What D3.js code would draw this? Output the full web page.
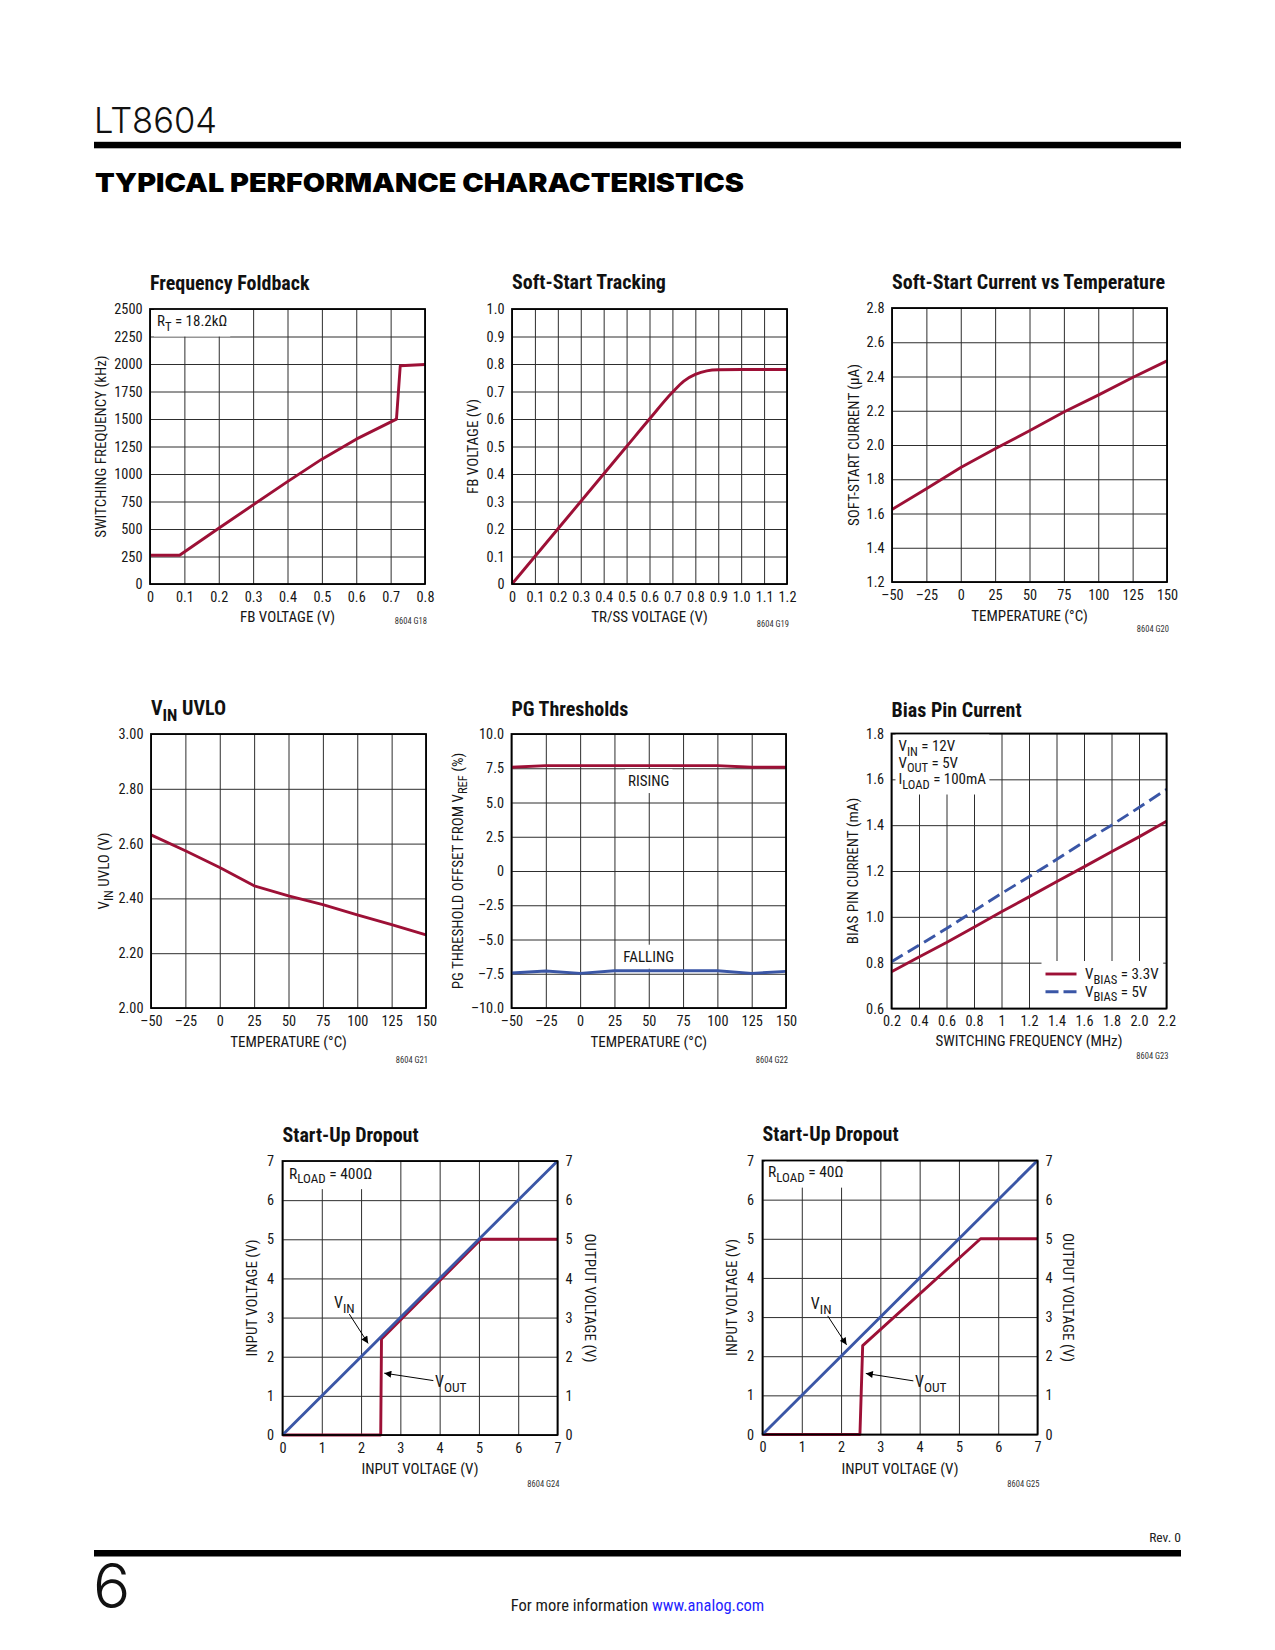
<!DOCTYPE html>
<html><head><meta charset="utf-8">
<script src="https://cdn.jsdelivr.net/npm/d3@7"></script>
<style>
body{margin:0;background:#fff;}
svg{display:block;}
</style></head><body>
<svg id="page" width="1275" height="1650"></svg>
<script>
// ---------------- DATA ----------------
// Frequency Foldback
const ffFb   = [0, 0.086, 0.2, 0.3, 0.4, 0.5, 0.6, 0.717, 0.728, 0.8];
const ffFreq = [261, 261, 507, 719, 931, 1135, 1317, 1499, 1984, 1995];
const ffXTicks = [0,0.1,0.2,0.3,0.4,0.5,0.6,0.7,0.8];
const ffXLabels = ["0","0.1","0.2","0.3","0.4","0.5","0.6","0.7","0.8"];
const ffYTicks = [0,250,500,750,1000,1250,1500,1750,2000,2250,2500];
const ffYLabels = ["0","250","500","750","1000","1250","1500","1750","2000","2250","2500"];

// Soft-Start Tracking
const ssTr = [0,0.1,0.2,0.3,0.4,0.5,0.6,0.7,0.75,0.8,0.85,0.9,1.0,1.1,1.2];
const ssFb = [0,0.1,0.2,0.3,0.4,0.5,0.6,0.697,0.738,0.762,0.775,0.779,0.78,0.78,0.78];
const ssXTicks = [0,0.1,0.2,0.3,0.4,0.5,0.6,0.7,0.8,0.9,1.0,1.1,1.2];
const ssXLabels = ["0","0.1","0.2","0.3","0.4","0.5","0.6","0.7","0.8","0.9","1.0","1.1","1.2"];
const ssYTicks = [0,0.1,0.2,0.3,0.4,0.5,0.6,0.7,0.8,0.9,1.0];
const ssYLabels = ["0","0.1","0.2","0.3","0.4","0.5","0.6","0.7","0.8","0.9","1.0"];

// Temperature axis (shared)
const tempTicks  = [-50,-25,0,25,50,75,100,125,150];
const tempLabels = ["\u201350","\u201325","0","25","50","75","100","125","150"];

// Soft-Start Current vs Temperature
const scTemp = [-50,-25,0,25,50,75,100,125,150];
const scCur  = [1.624,1.744,1.869,1.978,2.083,2.193,2.291,2.394,2.491];
const scYTicks = [1.2,1.4,1.6,1.8,2.0,2.2,2.4,2.6,2.8];
const scYLabels = ["1.2","1.4","1.6","1.8","2.0","2.2","2.4","2.6","2.8"];

// VIN UVLO
const uvTemp = [-50,-25,0,25,50,75,100,125,150];
const uvV    = [2.632,2.574,2.513,2.446,2.409,2.377,2.340,2.304,2.267];
const uvYTicks = [2.0,2.2,2.4,2.6,2.8,3.0];
const uvYLabels = ["2.00","2.20","2.40","2.60","2.80","3.00"];

// PG Thresholds
const pgTemp = [-50,-25,0,25,50,75,100,125,150];
const pgRise = [7.57,7.69,7.69,7.69,7.69,7.69,7.69,7.57,7.57];
const pgFall = [-7.45,-7.30,-7.47,-7.28,-7.28,-7.28,-7.28,-7.47,-7.33];
const pgYTicks = [-10,-7.5,-5,-2.5,0,2.5,5,7.5,10];
const pgYLabels = ["\u201310.0","\u20137.5","\u20135.0","\u20132.5","0","2.5","5.0","7.5","10.0"];

// Bias Pin Current
const bpFreq = [0.2,0.4,0.6,0.8,1.0,1.2,1.4,1.6,1.8,2.0,2.2];
const bp33   = [0.760,0.825,0.888,0.955,1.022,1.087,1.153,1.218,1.284,1.349,1.417];
const bp5    = [0.804,0.876,0.949,1.026,1.102,1.175,1.250,1.327,1.400,1.477,1.556];
const bpXLabels = ["0.2","0.4","0.6","0.8","1","1.2","1.4","1.6","1.8","2.0","2.2"];
const bpYTicks = [0.6,0.8,1.0,1.2,1.4,1.6,1.8];
const bpYLabels = ["0.6","0.8","1.0","1.2","1.4","1.6","1.8"];

// Start-Up Dropout
const suTicks  = [0,1,2,3,4,5,6,7];
const suLabels = ["0","1","2","3","4","5","6","7"];
const suVinX = [0,7];
const suVinY = [0,7];
const su400OutX = [0,2.50,2.52,5.05,7];
const su400OutY = [0,0,2.45,5.0,5.0];
const su40OutX  = [0,2.48,2.55,5.55,7];
const su40OutY  = [0,0,2.27,5.0,5.0];

// ---------------- STYLE ----------------
const NARROW = '"Liberation Sans Narrow","Roboto Condensed","Arial Narrow","DejaVu Sans Condensed",sans-serif';
const RED = "#9d1036";
const BLUE = "#3a56a6";
const GRID = "#2e2e2e";
const TICK = 14.3, LAB = 15, ANN = 15, TITLE = 20;

const svg = d3.select("#page");

function rich(g, x, y, parts, size, anchor, extra){
  const t = g.append("text").attr("x", x).attr("y", y)
    .attr("font-family", NARROW).attr("font-stretch","condensed")
    .attr("font-size", size).attr("fill", "#161616")
    .attr("text-anchor", anchor || "start");
  if (extra) t.attr("transform", extra);
  let shifted = false;
  const sh = size * 0.3;
  parts.forEach(p => {
    const isSub = Array.isArray(p);
    const txt = isSub ? p[0] : p;
    const ts = t.append("tspan").text(txt);
    if (isSub) { ts.attr("font-size", size*0.84).attr("dy", shifted ? 0 : sh); shifted = true; }
    else { if (shifted) { ts.attr("dy", -sh); shifted = false; } }
  });
  return t;
}

function whiteBehind(g, nodes, pad){
  let x0=1e9,y0=1e9,x1=-1e9,y1=-1e9;
  nodes.forEach(n => { const b = n.node().getBBox(); x0=Math.min(x0,b.x); y0=Math.min(y0,b.y); x1=Math.max(x1,b.x+b.width); y1=Math.max(y1,b.y+b.height); });
  g.insert("rect", ":first-child").attr("x", x0-pad).attr("y", y0-pad).attr("width", x1-x0+2*pad).attr("height", y1-y0+2*pad).attr("fill","#fff");
}

function chart(cfg){
  const {l,t,w,h} = cfg.box;
  const G = svg.append("g");
  const x = d3.scaleLinear().domain(cfg.xDomain).range([l, l+w]);
  const y = d3.scaleLinear().domain(cfg.yDomain).range([t+h, t]);

  const styleAxis = s => {
    s.select(".domain").remove();
    s.selectAll(".tick line").attr("stroke", GRID).attr("stroke-width", 1);
    s.selectAll(".tick text").attr("font-family", NARROW).attr("font-stretch","condensed").attr("font-size", TICK).attr("fill","#161616");
  };
  G.append("g").attr("transform", `translate(0,${t+h})`)
    .call(d3.axisBottom(x).tickValues(cfg.xTicks).tickFormat((d,i)=>cfg.xLabels[i]).tickSize(-h).tickPadding(7.5))
    .call(styleAxis);
  G.append("g").attr("transform", `translate(${l},0)`)
    .call(d3.axisLeft(y).tickValues(cfg.yTicks).tickFormat((d,i)=>cfg.yLabels[i]).tickSize(-w).tickPadding(cfg.yPad || 7.5))
    .call(styleAxis);
  if (cfg.rightAxis){
    G.append("g").attr("transform", `translate(${l+w},0)`)
      .call(d3.axisRight(y).tickValues(cfg.yTicks).tickFormat((d,i)=>cfg.yLabels[i]).tickSize(0).tickPadding(8))
      .call(styleAxis);
  }

  const A = G.append("g");
  if (cfg.annot) cfg.annot(A, x, y);

  const D = G.append("g");
  cfg.series.forEach(s => {
    const pts = s.x.map((v,i)=>[v, s.y[i]]);
    const line = d3.line().x(d=>x(d[0])).y(d=>y(d[1])).curve(s.curve || d3.curveLinear);
    D.append("path").attr("d", line(pts)).attr("fill","none")
      .attr("stroke", s.color).attr("stroke-width", 2.9)
      .attr("stroke-linejoin","round")
      .attr("stroke-dasharray", s.dash || null);
  });

  G.append("rect").attr("x", l).attr("y", t).attr("width", w).attr("height", h)
    .attr("fill","none").attr("stroke","#000").attr("stroke-width", 1.8);

  if (cfg.top) cfg.top(G, x, y);

  const title = rich(G, l, cfg.titleY, cfg.title, TITLE, "start");
  title.attr("font-weight","bold").attr("fill","#111");
  rich(G, l + w/2, cfg.xLabelY, cfg.xLabel, LAB, "middle");
  const cy = t + h/2;
  rich(G, 0, 5.3, cfg.yLabel, LAB, "middle", `translate(${cfg.yLabelX},${cy}) rotate(-90)`);
  if (cfg.yLabelR){
    rich(G, 0, 5.3, cfg.yLabelR, LAB, "middle", `translate(${cfg.yLabelRX},${cy}) rotate(90)`);
  }
  G.append("text").attr("x", l + w + (cfg.codeDX||2)).attr("y", cfg.codeY).attr("text-anchor","end")
    .attr("font-family", NARROW).attr("font-stretch","condensed").attr("font-size", 8.5).attr("fill","#333").text(cfg.code);
}

// ---------------- PAGE HEADER ----------------
svg.append("text").attr("x", 94).attr("y", 133).attr("font-family","Inter, 'DejaVu Sans', sans-serif")
  .attr("font-weight", 300).attr("font-size", 36).attr("fill","#111")
  .attr("textLength", 123).attr("lengthAdjust","spacingAndGlyphs").text("LT8604");
svg.append("rect").attr("x", 94).attr("y", 141.8).attr("width", 1087).attr("height", 6.5).attr("fill","#000");
svg.append("text").attr("x", 95).attr("y", 191.5).attr("font-family","Inter, 'DejaVu Sans', sans-serif")
  .attr("font-weight", 900).attr("font-size", 25.5).attr("fill","#000")
  .attr("textLength", 649).attr("lengthAdjust","spacingAndGlyphs")
  .text("TYPICAL PERFORMANCE CHARACTERISTICS");

// ---------------- CHARTS ----------------
chart({
  box:{l:150,t:309,w:275,h:275},
  xDomain:[0,0.8], yDomain:[0,2500],
  xTicks:ffXTicks, xLabels:ffXLabels, yTicks:ffYTicks, yLabels:ffYLabels,
  title:["Frequency Foldback"], titleY:289.5,
  xLabel:["FB VOLTAGE (V)"], xLabelY:621.5,
  yLabel:["SWITCHING FREQUENCY (kHz)"], yLabelX:100.7,
  code:"8604 G18", codeY:624,
  series:[{x:ffFb, y:ffFreq, color:RED}],
  annot:(A)=>{ const t = rich(A, 157, 326, ["R",["T"]," = 18.2k\u03A9"], ANN); whiteBehind(A,[t],3); }
});

chart({
  box:{l:512,t:309,w:275,h:275},
  xDomain:[0,1.2], yDomain:[0,1.0],
  xTicks:ssXTicks, xLabels:ssXLabels, yTicks:ssYTicks, yLabels:ssYLabels,
  title:["Soft-Start Tracking"], titleY:289,
  xLabel:["TR/SS VOLTAGE (V)"], xLabelY:621.5,
  yLabel:["FB VOLTAGE (V)"], yLabelX:472.3,
  code:"8604 G19", codeY:626.5,
  series:[{x:ssTr, y:ssFb, color:RED, curve:d3.curveMonotoneX}]
});

chart({
  box:{l:892,t:308,w:275,h:274},
  xDomain:[-50,150], yDomain:[1.2,2.8],
  xTicks:tempTicks, xLabels:tempLabels, yTicks:scYTicks, yLabels:scYLabels,
  title:["Soft-Start Current vs Temperature"], titleY:288.5,
  xLabel:["TEMPERATURE (\u00B0C)"], xLabelY:621,
  yLabel:["SOFT-START CURRENT (\u03BCA)"], yLabelX:853.3,
  code:"8604 G20", codeY:631.5,
  series:[{x:scTemp, y:scCur, color:RED}]
});

chart({
  box:{l:151,t:734,w:275,h:274},
  xDomain:[-50,150], yDomain:[2.0,3.0],
  xTicks:tempTicks, xLabels:tempLabels, yTicks:uvYTicks, yLabels:uvYLabels,
  title:["V",["IN"]," UVLO"], titleY:714.5,
  xLabel:["TEMPERATURE (\u00B0C)"], xLabelY:1046.5,
  yLabel:["V",["IN"]," UVLO (V)"], yLabelX:103.3,
  code:"8604 G21", codeY:1063,
  series:[{x:uvTemp, y:uvV, color:RED}]
});

chart({
  box:{l:511.5,t:734,w:274.5,h:274},
  xDomain:[-50,150], yDomain:[-10,10],
  xTicks:tempTicks, xLabels:tempLabels, yTicks:pgYTicks, yLabels:pgYLabels,
  title:["PG Thresholds"], titleY:715.5,
  xLabel:["TEMPERATURE (\u00B0C)"], xLabelY:1046.5,
  yLabel:["PG THRESHOLD OFFSET FROM V",["REF"]," (%)"], yLabelX:457.3,
  code:"8604 G22", codeY:1063,
  series:[{x:pgTemp, y:pgRise, color:RED},{x:pgTemp, y:pgFall, color:BLUE}],
  annot:(A,x,y)=>{
    const r = rich(A, x(50), y(6.2), ["RISING"], ANN, "middle"); whiteBehind(A,[r],3);
    const f = rich(A, x(50), y(-6.62), ["FALLING"], ANN, "middle"); whiteBehind(A,[f],3);
  }
});

chart({
  box:{l:891.5,t:733.5,w:275,h:275},
  xDomain:[0.2,2.2], yDomain:[0.6,1.8],
  xTicks:bpFreq, xLabels:bpXLabels, yTicks:bpYTicks, yLabels:bpYLabels,
  title:["Bias Pin Current"], titleY:716.5,
  xLabel:["SWITCHING FREQUENCY (MHz)"], xLabelY:1046,
  yLabel:["BIAS PIN CURRENT (mA)"], yLabelX:852.7,
  code:"8604 G23", codeY:1058.5,
  series:[{x:bpFreq, y:bp33, color:RED},{x:bpFreq, y:bp5, color:BLUE, dash:"13,6"}],
  annot:(A,x,y)=>{
    const L = 891.5, B = 1008.5, R = 1166.5;
    const a1 = rich(A, L+7, 751, ["V",["IN"]," = 12V"], ANN);
    const a2 = rich(A, L+7, 767.5, ["V",["OUT"]," = 5V"], ANN);
    const a3 = rich(A, L+7, 784, ["I",["LOAD"]," = 100mA"], ANN);
    whiteBehind(A,[a1,a2,a3],3);
    const lg = A.append("g");
    const s1 = lg.append("line").attr("x1",R-121).attr("x2",R-90).attr("y1",B-34.5).attr("y2",B-34.5).attr("stroke",RED).attr("stroke-width",2.9);
    const s2 = lg.append("line").attr("x1",R-121).attr("x2",R-90).attr("y1",B-16.8).attr("y2",B-16.8).attr("stroke",BLUE).attr("stroke-width",2.9).attr("stroke-dasharray","13,5");
    const t1 = rich(lg, R-81.5, B-29.5, ["V",["BIAS"]," = 3.3V"], ANN);
    const t2 = rich(lg, R-81.5, B-12, ["V",["BIAS"]," = 5V"], ANN);
    whiteBehind(lg,[s1,s2,t1,t2],4);
  }
});

function dropoutArrows(G, x, y, a){
  const defs = svg.select("defs").empty() ? svg.append("defs") : svg.select("defs");
  if (defs.select("#ah").empty()){
    defs.append("marker").attr("id","ah").attr("viewBox","0 0 10 10").attr("refX",10).attr("refY",5)
      .attr("markerWidth",9).attr("markerHeight",7).attr("markerUnits","userSpaceOnUse").attr("orient","auto")
      .append("path").attr("d","M0,0 L10,5 L0,10 Z").attr("fill","#000");
  }
  rich(G, x(a.vinLab[0]), y(a.vinLab[1]), ["V",["IN"]], 16);
  rich(G, x(a.voutLab[0]), y(a.voutLab[1]), ["V",["OUT"]], 16);
  [a.vinArr, a.voutArr].forEach(p => {
    G.append("line").attr("x1",x(p[0])).attr("y1",y(p[1])).attr("x2",x(p[2])).attr("y2",y(p[3]))
      .attr("stroke","#000").attr("stroke-width",1).attr("marker-end","url(#ah)");
  });
}

chart({
  box:{l:282.5,t:1161,w:275,h:274},
  xDomain:[0,7], yDomain:[0,7],
  xTicks:suTicks, xLabels:suLabels, yTicks:suTicks, yLabels:suLabels, yPad:8.5,
  rightAxis:true,
  title:["Start-Up Dropout"], titleY:1141.5,
  xLabel:["INPUT VOLTAGE (V)"], xLabelY:1474,
  yLabel:["INPUT VOLTAGE (V)"], yLabelX:251.7,
  yLabelR:["OUTPUT VOLTAGE (V)"], yLabelRX:590,
  code:"8604 G24", codeY:1486.5, codeDX:0,
  series:[{x:su400OutX, y:su400OutY, color:RED},{x:suVinX, y:suVinY, color:BLUE}],
  annot:(A)=>{ const t = rich(A, 289, 1178.5, ["R",["LOAD"]," = 400\u03A9"], 15.5); whiteBehind(A,[t],3); },
  top:(G,x,y)=>dropoutArrows(G,x,y,{vinLab:[1.31,3.24], voutLab:[3.88,1.23], vinArr:[1.70,3.09,2.18,2.34], voutArr:[3.84,1.39,2.59,1.58]})
});

chart({
  box:{l:762.5,t:1160.5,w:275,h:274},
  xDomain:[0,7], yDomain:[0,7],
  xTicks:suTicks, xLabels:suLabels, yTicks:suTicks, yLabels:suLabels, yPad:8.5,
  rightAxis:true,
  title:["Start-Up Dropout"], titleY:1141,
  xLabel:["INPUT VOLTAGE (V)"], xLabelY:1474,
  yLabel:["INPUT VOLTAGE (V)"], yLabelX:731.7,
  yLabelR:["OUTPUT VOLTAGE (V)"], yLabelRX:1068,
  code:"8604 G25", codeY:1486.5, codeDX:0,
  series:[{x:su40OutX, y:su40OutY, color:RED},{x:suVinX, y:suVinY, color:BLUE}],
  annot:(A)=>{ const t = rich(A, 768, 1177, ["R",["LOAD"]," = 40\u03A9"], 15.5); whiteBehind(A,[t],3); },
  top:(G,x,y)=>dropoutArrows(G,x,y,{vinLab:[1.23,3.21], voutLab:[3.88,1.22], vinArr:[1.66,3.03,2.14,2.29], voutArr:[3.84,1.37,2.63,1.56]})
});

// ---------------- FOOTER ----------------
svg.append("text").attr("x",1181).attr("y",1541.5).attr("text-anchor","end")
  .attr("font-family",NARROW).attr("font-stretch","condensed").attr("font-size",13.5).attr("fill","#222").text("Rev. 0");
svg.append("rect").attr("x", 94).attr("y", 1550).attr("width", 1087).attr("height", 6.5).attr("fill","#000");
svg.append("text").attr("x", 93).attr("y", 1607.5).attr("font-family","Inter, 'DejaVu Sans', sans-serif")
  .attr("font-weight", 300).attr("font-size", 62).attr("fill","#111").text("6");
const ft = svg.append("text").attr("x", 637.5).attr("y", 1611).attr("text-anchor","middle")
  .attr("font-family",NARROW).attr("font-stretch","condensed").attr("font-size",16.5).attr("fill","#1a1a1a");
ft.append("tspan").text("For more information ");
ft.append("tspan").attr("fill","#1f1fff").text("www.analog.com");
</script>
</body></html>
